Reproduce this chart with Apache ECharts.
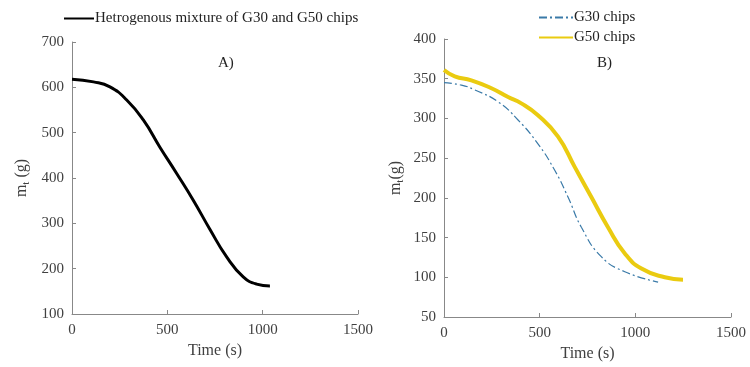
<!DOCTYPE html>
<html><head><meta charset="utf-8">
<script src="https://cdn.jsdelivr.net/npm/echarts@6/dist/echarts.min.js"></script>
<style>html,body{margin:0;padding:0;background:#fff}#c{width:750px;height:367px}</style>
</head><body><div id="c"></div>
<script>
var mixT = [0,113,199,287,374,461,549,636,723,811,898,968,1038];
var mixM = [618,612,601,572,528,468,410,351,287,226,182,166,162];
var g30T = [0,91,160,282,387,491,578,648,718,822,945,1119];
var g30M = [345,342,336,321,298,268,235,201,163,126,107,94];
var g50T = [0,56,143,248,335,404,491,596,683,770,857,945,1032,1154,1249];
var g50M = [361,353,348,338,327,319,304,277,239,201,163,130,111,100,97];
var xTicks = [0,500,1000,1500];
var yTicksA = [100,200,300,400,500,600,700];
var yTicksB = [50,100,150,200,250,300,350,400];

function pairs(t,m){return t.map(function(v,i){return [v,m[i]];});}
var F = 'Liberation Serif';
var txt = '#404040';
function xAxis(gi){
  return {type:'value',gridIndex:gi,min:xTicks[0],max:xTicks[xTicks.length-1],interval:500,
    name:'Time (s)',nameLocation:'middle',nameGap:28,
    nameTextStyle:{fontFamily:F,fontSize:16,color:txt},
    axisLine:{show:true,lineStyle:{color:'#888'}},
    axisTick:{show:true,inside:true,length:4,lineStyle:{color:'#888'}},
    axisLabel:{fontFamily:F,fontSize:15,color:txt,margin:9,formatter:function(v){return String(v);}},
    splitLine:{show:false}};
}
function yAxis(gi,ticks,gap,name){
  return {type:'value',gridIndex:gi,min:ticks[0],max:ticks[ticks.length-1],interval:ticks[1]-ticks[0],
    name:name,nameLocation:'middle',nameGap:gap,
    nameTextStyle:{fontFamily:F,fontSize:16,color:txt,
      rich:{s:{fontFamily:F,fontSize:11,color:txt,verticalAlign:'bottom',padding:[10,0,0,0]}}},
    axisLine:{show:true,lineStyle:{color:'#888'}},
    axisTick:{show:true,inside:true,length:4,lineStyle:{color:'#888'}},
    axisLabel:{fontFamily:F,fontSize:15,color:txt,margin:8,formatter:function(v){return String(v);}},
    splitLine:{show:false}};
}
var chart = echarts.init(document.getElementById('c'));
chart.setOption({
  animation:false,
  backgroundColor:'#fff',
  grid:[{left:72,top:42,width:286,height:272},{left:444,top:39,width:287,height:278}],
  xAxis:[xAxis(0),xAxis(1)],
  yAxis:[yAxis(0,yTicksA,40,'m{s|t} (g)'),yAxis(1,yTicksB,38,'m{s|t}(g)')],
  legend:[
    {data:['Hetrogenous mixture of G30 and G50 chips'],left:58,top:6,itemWidth:30,itemHeight:14,itemGap:2,
      itemStyle:{opacity:0},
      textStyle:{fontFamily:F,fontSize:15,color:'#222',padding:[0,0,0,-4]}},
    {data:['G30 chips','G50 chips'],orient:'vertical',left:533,top:5,itemWidth:34,itemHeight:14,itemGap:5,
      itemStyle:{opacity:0},
      textStyle:{fontFamily:F,fontSize:15,color:'#222',padding:[0,0,0,-4]}}
  ],
  graphic:[
    {type:'text',left:218,top:56,style:{text:'A)',font:'15px "Liberation Serif"',fill:'#222'}},
    {type:'text',left:597,top:56,style:{text:'B)',font:'15px "Liberation Serif"',fill:'#222'}}
  ],
  series:[
    {name:'Hetrogenous mixture of G30 and G50 chips',type:'line',xAxisIndex:0,yAxisIndex:0,
      data:pairs(mixT,mixM),smooth:0.5,symbol:'none',
      lineStyle:{color:'#000',width:3},itemStyle:{color:'#000'}},
    {name:'G30 chips',type:'line',xAxisIndex:1,yAxisIndex:1,
      data:pairs(g30T,g30M),smooth:0.5,symbol:'none',
      lineStyle:{color:'#3a7aa8',width:1.2,type:[8,3,2,3]},itemStyle:{color:'#3a7aa8'}},
    {name:'G50 chips',type:'line',xAxisIndex:1,yAxisIndex:1,
      data:pairs(g50T,g50M),smooth:0.5,symbol:'none',
      lineStyle:{color:'#eacb10',width:4},itemStyle:{color:'#eacb10'}}
  ]
});
</script></body></html>
